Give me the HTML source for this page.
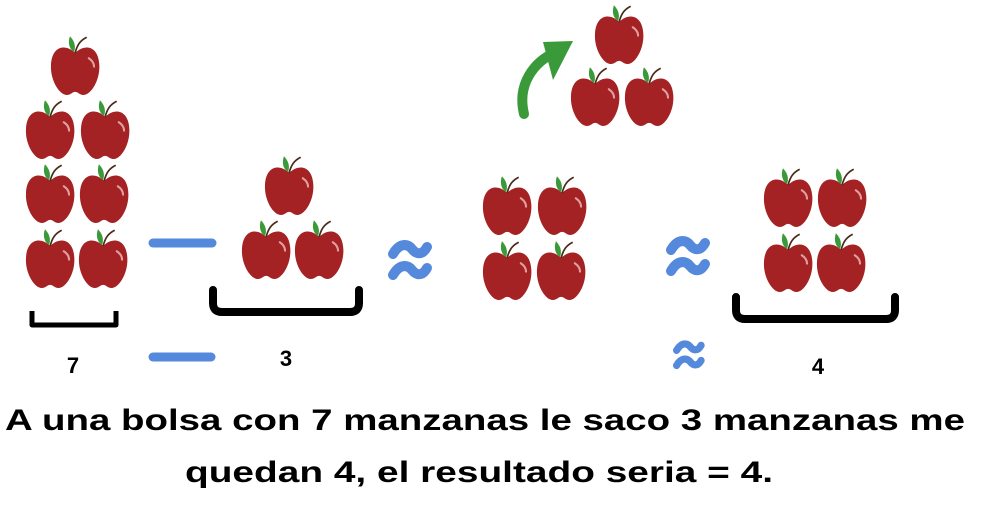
<!DOCTYPE html>
<html><head><style>
html,body{margin:0;padding:0;background:#fff;}
svg{display:block;}
text{font-family:"Liberation Sans",sans-serif;font-weight:bold;fill:#000;}
</style></head><body>
<svg width="1000" height="512" viewBox="0 0 1000 512" xmlns="http://www.w3.org/2000/svg">
<defs>
<g id="apple0">
<path d="M23,20 C14,11 1,13 0,31 C-1,46 8,60 15,60 C19,60 20,57 23,57 C26,57 27,60 31,60 C38,60 47,46 46,31 C45,13 32,11 23,20 Z" fill="#a52224"/>
<path d="M36,25 C39,27 41,30 41,33" stroke="#e0a0a0" stroke-width="2" fill="none" stroke-linecap="round"/>
<path d="M23,20 C25,12 28,8 34,5" stroke="#4a2a1a" stroke-width="1.6" fill="none"/>
<path d="M22,19 C17,16 16,10 18,4 C22,8 24,13 22,19 Z" fill="#3a9a3a"/>
</g>
<g id="apple"><g transform="translate(-1,-1) scale(1.05)"><use href="#apple0"/></g></g>
<g id="approx" fill="none" stroke="#5589dc" stroke-width="10" stroke-linecap="round">
<path d="M5,13 C12,1 20,3 24,8 C28,13 34,15 39,6"/>
<path d="M5,34 C12,22 20,24 24,29 C28,34 34,36 39,27"/>
</g>
</defs>
<use href="#apple" x="52" y="33"/>
<use href="#apple" x="27" y="97"/><use href="#apple" x="82" y="97"/>
<use href="#apple" x="27" y="161"/><use href="#apple" x="81" y="161"/>
<use href="#apple" x="27" y="226"/><use href="#apple" x="80" y="226"/>
<use href="#apple" x="266" y="153"/>
<use href="#apple" x="243" y="217"/><use href="#apple" x="296" y="217"/>
<use href="#apple" x="484" y="173"/><use href="#apple" x="539" y="173"/>
<use href="#apple" x="484" y="238"/><use href="#apple" x="538" y="238"/>
<use href="#apple" x="596" y="2"/>
<use href="#apple" x="572" y="64"/><use href="#apple" x="626" y="64"/>
<use href="#apple" x="765" y="165"/><use href="#apple" x="819" y="165"/>
<use href="#apple" x="765" y="230"/><use href="#apple" x="818" y="230"/>
<path d="M524,114 C517,85 533,62 556,52" stroke="#3a9a3a" stroke-width="10" fill="none" stroke-linecap="round"/>
<path d="M543,42 L573,41 L553,80 Z" fill="#3a9a3a"/>
<path d="M32,311 L32,325 L116,325 L116,311" stroke="#000" stroke-width="5" fill="none" stroke-linejoin="round"/>
<path d="M213,290 L213,303 Q213,312 222,312 L350,312 Q359,312 359,303 L359,290" stroke="#000" stroke-width="8" fill="none" stroke-linecap="round"/>
<path d="M736,297 L736,310 Q736,319 745,319 L886,319 Q895,319 895,310 L895,297" stroke="#000" stroke-width="8" fill="none" stroke-linecap="round"/>
<line x1="153" y1="243" x2="212" y2="243" stroke="#5589dc" stroke-width="9" stroke-linecap="round"/>
<line x1="153" y1="357" x2="211" y2="357" stroke="#5589dc" stroke-width="9" stroke-linecap="round"/>
<use href="#approx" x="388" y="241"/>
<use href="#approx" x="666" y="237"/>
<g transform="translate(673,341) scale(0.72)"><use href="#approx"/></g>
<text x="73" y="373" font-size="22" text-anchor="middle">7</text>
<text x="286" y="366" font-size="22" text-anchor="middle">3</text>
<text x="818" y="374" font-size="22" text-anchor="middle">4</text>
<text x="5" y="430" font-size="30" textLength="960" lengthAdjust="spacingAndGlyphs">A una bolsa con 7 manzanas le saco 3 manzanas me</text>
<text x="185" y="482" font-size="30" textLength="588" lengthAdjust="spacingAndGlyphs">quedan 4, el resultado seria = 4.</text>
</svg>
</body></html>
